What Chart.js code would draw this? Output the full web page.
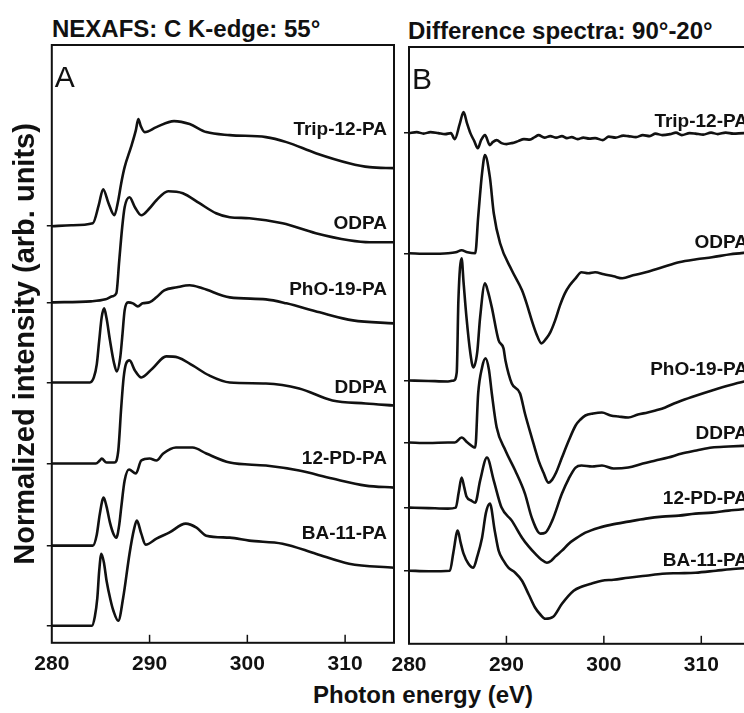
<!DOCTYPE html>
<html>
<head>
<meta charset="utf-8">
<script src="https://cdn.jsdelivr.net/npm/chart.js@4.4.1/dist/chart.umd.min.js"></script>
<style>
  html, body { margin: 0; padding: 0; background: #fff; overflow: hidden; width: 744px; height: 713px; }
  .txt { position: absolute; font-family: "Liberation Sans", Arial, sans-serif; font-weight: bold;
         color: #111; white-space: nowrap; font-size: 24px; line-height: 24px; }
  canvas { position: absolute; top: 0; }
</style>
</head>
<body>
<div class="txt" style="left:52px; top:17px;">NEXAFS: C K-edge: 55°</div>
<div class="txt" style="left:408px; top:19px;">Difference spectra: 90°-20°</div>
<div class="txt" style="left:313px; top:683px;">Photon energy (eV)</div>
<canvas id="chartA" width="400" height="713" style="left:0px"></canvas>
<canvas id="chartB" width="440" height="713" style="left:360px"></canvas>
<script>
// spectrum names (top to bottom)
const names = ['Trip-12-PA', 'ODPA', 'PhO-19-PA', 'DDPA', '12-PD-PA', 'BA-11-PA'];
const xTicks = [280, 290, 300, 310];

// Panel A: NEXAFS C K-edge at 55 deg, [photon energy eV, offset intensity]
const tripA = [[280,41.6],[282,41.7],[284.2,41.9],[284.8,43.7],[285.25,45.3],[285.8,43.9],[286.4,42.7],[286.8,44.2],[287.1,45.9],[287.45,47.5],[288.1,49.5],[288.6,51.2],[288.85,52.3],[289.1,51.6],[289.5,51.0],[290.7,51.5],[292.5,52.1],[294.1,51.8],[295.8,51.0],[298.2,50.7],[301.9,50.5],[304,50.0],[307,48.9],[310.4,47.9],[312.5,47.5],[315,47.4]];
const odpaA = [[280,34.0],[284,34.1],[285.5,34.3],[286.2,34.6],[286.6,34.9],[286.9,38.2],[287.2,41.5],[287.45,43.5],[287.95,44.5],[288.5,43.5],[289.15,42.7],[290,43.4],[290.7,44.2],[291.9,45.1],[293.4,44.9],[295.1,43.9],[296.8,42.9],[298.2,42.5],[300.2,42.4],[303.6,41.9],[307,40.9],[310.4,40.2],[312.5,40.0],[315,40.0]];
const phoA = [[280,26.0],[283.9,26.0],[284.3,26.5],[284.6,27.8],[284.85,30.2],[285.1,32.5],[285.35,33.4],[285.6,32.4],[285.95,30.2],[286.35,28.0],[286.65,27.1],[287.0,28.5],[287.2,30.5],[287.45,33.2],[287.8,34.0],[288.3,33.9],[288.8,33.6],[289.3,33.9],[290,34.0],[290.7,34.5],[291.5,35.2],[292.8,35.5],[294.1,35.7],[295.4,35.4],[298.2,34.5],[301.9,34.3],[304,33.9],[307.4,33.0],[310.8,32.2],[315,31.9]];
const ddpaA = [[280,17.9],[284.5,17.9],[284.9,18.2],[285.1,18.4],[285.6,18.0],[286.4,18.0],[286.8,19.2],[287.1,23.5],[287.35,26.5],[287.6,27.9],[287.95,28.2],[288.5,27.2],[289.15,26.5],[290.3,27.4],[291.7,28.6],[292.9,28.5],[294.4,27.7],[296.1,26.7],[298.2,26.0],[301.9,25.9],[305.3,25.4],[308.7,24.2],[312.1,23.9],[315,23.7]];
const pdA = [[280,9.7],[284.2,9.7],[284.6,10.8],[284.9,12.8],[285.3,14.5],[285.6,13.6],[285.95,12.0],[286.3,10.9],[286.6,10.5],[286.9,11.8],[287.1,13.5],[287.45,16.2],[287.9,17.3],[288.6,16.9],[289.15,18.2],[290,18.4],[290.7,18.2],[291.4,18.9],[292.7,19.5],[294.4,19.5],[295.8,18.9],[298.2,18.0],[301.9,17.7],[305.3,17.2],[308.7,16.4],[312.1,15.7],[315,15.5]];
const baA = [[280,1.7],[284.1,1.7],[284.4,2.6],[284.65,4.4],[284.85,7.2],[285.07,8.9],[285.35,7.9],[285.6,6.2],[286.0,4.3],[286.3,3.2],[286.8,2.2],[287.3,4.5],[287.95,8.9],[288.4,11.3],[288.7,12.2],[289.15,10.9],[289.6,9.8],[290.7,10.4],[292,11.0],[293.7,11.9],[294.8,11.5],[295.8,10.7],[298.2,10.5],[300.2,10.2],[303.6,9.9],[307,8.9],[310.4,7.9],[315,7.5]];

// Panel B: difference spectra 90-20 deg
const tripB = [[280,50.9],[280.8,51.0],[281.5,50.85],[282.2,51.0],[283,50.9],[283.7,50.8],[284.3,50.9],[284.7,50.3],[285.2,51.8],[285.6,53.0],[285.95,51.9],[286.3,50.9],[286.7,50.1],[287.06,49.4],[287.4,50.2],[287.8,50.7],[288.3,49.7],[288.6,50.0],[289,50.2],[289.5,49.9],[290.0,49.8],[290.55,49.9],[291.2,50.1],[291.8,50.3],[292.4,50.25],[292.9,50.5],[293.3,50.7],[293.9,50.45],[294.5,50.6],[295.1,50.45],[295.7,50.6],[296.2,50.4],[296.7,50.5],[297.3,50.3],[297.9,50.45],[298.5,50.35],[299.1,50.4],[299.9,50.2],[300.5,50.55],[301.2,50.45],[302,50.65],[302.5,50.6],[303.3,50.5],[304,50.7],[304.7,50.6],[305.3,50.85],[306,50.7],[306.8,50.8],[307.4,50.95],[308,50.7],[308.8,50.9],[309.4,50.85],[310.2,50.75],[311,50.95],[311.7,50.8],[312.5,50.95],[313.3,50.85],[314.4,50.9],[315,50.9]];
const odpaB = [[280,38.9],[282,38.85],[284,38.9],[284.8,39.0],[285.4,39.2],[286,39.0],[286.8,38.9],[287.1,42.5],[287.5,46.9],[287.8,48.7],[288.3,46.5],[288.7,42.9],[289.35,39.9],[290.55,37.2],[291.6,35.2],[292.1,33.8],[292.6,32.2],[293.1,30.8],[293.6,29.9],[294.1,30.4],[294.5,31.0],[295,32.2],[295.5,33.7],[296,34.9],[296.5,35.7],[297.1,36.4],[297.7,37.0],[298.4,36.9],[299.1,37.0],[300,36.8],[301,36.6],[301.9,36.4],[303,36.7],[304.3,37.0],[306,37.5],[307.7,38.0],[309.5,38.3],[311.1,38.5],[313,38.8],[315,39.0]];
const phoB = [[280,26.2],[282,26.15],[284,26.1],[284.6,26.2],[284.9,27.0],[285.07,34.2],[285.4,38.4],[285.6,36.0],[285.9,32.5],[286.3,28.9],[286.6,27.5],[287.0,29.0],[287.3,32.5],[287.8,35.9],[288.1,35.1],[288.5,33.5],[289.2,30.2],[289.7,29.4],[289.9,28.2],[290.55,25.9],[291.4,24.9],[291.9,22.9],[292.6,20.5],[293.3,18.2],[293.8,17.0],[294.3,16.0],[294.7,16.3],[295.1,17.0],[295.7,18.5],[296.4,20.2],[297.1,21.7],[297.6,22.3],[298.1,22.7],[298.9,22.9],[299.8,23.0],[300.7,22.7],[301.5,22.6],[302.5,22.5],[303.5,22.8],[304.5,23.0],[305.3,23.2],[306.3,23.5],[307.2,23.9],[308,24.2],[309.5,24.7],[311.1,25.2],[312.8,25.7],[314.4,26.1],[315,26.2]];
const ddpaB = [[280,20.0],[282,19.95],[284,20.0],[284.7,20.0],[285.4,20.5],[286,20.0],[286.8,19.5],[287.1,24.9],[287.5,27.5],[287.85,28.4],[288.2,27.3],[288.5,24.9],[289,21.5],[289.9,19.2],[290.9,17.2],[291.9,14.9],[292.6,12.5],[293.5,10.9],[294.0,11.0],[294.7,12.2],[295.7,14.9],[296.4,16.4],[297.1,17.5],[297.7,17.7],[298.8,17.6],[299.8,17.7],[301,17.4],[302.5,17.5],[304,17.9],[305.3,18.2],[306.6,18.5],[308,18.9],[309.5,19.2],[311.1,19.5],[312.8,19.6],[315,19.7]];
const pdB = [[280,13.5],[282,13.45],[284,13.4],[284.8,13.5],[285.1,15.0],[285.4,16.5],[285.65,15.6],[285.9,14.6],[286.4,14.2],[286.8,14.0],[287.3,16.2],[288,18.5],[288.7,16.2],[289.5,13.5],[290.55,12.2],[291.6,10.5],[292.3,9.6],[292.95,8.9],[293.6,8.3],[294.15,8.0],[294.6,8.2],[295.0,8.6],[295.7,9.2],[296.4,9.9],[297.1,10.4],[298.1,11.0],[299.5,11.5],[300.8,11.8],[302.5,12.1],[304.3,12.4],[306,12.6],[307.7,12.7],[309.4,12.9],[311.1,13.0],[312.8,13.2],[315,13.4]];
const baB = [[280,7.2],[282,7.15],[284.2,7.2],[284.55,9.0],[285.0,11.2],[285.3,10.0],[285.6,8.9],[286.1,7.9],[286.6,7.5],[287.0,8.6],[287.5,10.5],[287.9,13.0],[288.3,13.9],[288.8,11.2],[289.2,9.2],[289.7,8.2],[290.2,7.5],[290.9,7.0],[291.6,6.2],[292.3,4.8],[292.95,3.5],[293.5,2.8],[294.0,2.4],[294.8,2.6],[295.7,3.9],[296.9,5.2],[297.7,5.6],[298.7,5.9],[299.8,6.2],[301,6.3],[302.5,6.5],[304.3,6.7],[306,6.9],[307.7,6.95],[309.4,7.0],[311.5,7.2],[313,7.35],[315,7.5]];

// pre-edge baselines (left axis tick marks)
const baseA = [41.6, 34.0, 26.0, 17.9, 9.7, 1.7];
const baseB = [50.9, 38.9, 26.2, 20.0, 13.5, 7.2];
// where each name sits (y value of the text baseline)
const labelYA = [50.7, 41.3, 34.7, 24.9, 17.9, 10.4];
const labelYB = [51.5, 39.4, 26.7, 20.4, 13.9, 7.7];

const FONT = '"Liberation Sans", Arial, sans-serif';
const INK = '#111';

// frame, inward x ticks, panel letter and curve names
const framePlugin = {
  id: 'frame',
  afterDraw(chart, args, opts) {
    const { ctx, chartArea: a } = chart;
    const x = chart.scales.x, y = chart.scales.y;
    ctx.save();
    ctx.strokeStyle = INK;
    ctx.lineWidth = 2;
    ctx.strokeRect(a.left, a.top, a.right - a.left, a.bottom - a.top);
    ctx.lineWidth = 1.5;
    x.ticks.forEach(t => {
      const px = x.getPixelForValue(t.value);
      if (px <= a.left + 2 || px >= a.right - 2) return;
      ctx.beginPath();
      ctx.moveTo(px, a.bottom);
      ctx.lineTo(px, a.bottom - 8);
      ctx.stroke();
    });
    ctx.fillStyle = INK;
    ctx.font = '30px ' + FONT;
    ctx.textAlign = 'left';
    ctx.textBaseline = 'alphabetic';
    ctx.fillText(opts.letter, a.left + 3, a.top + 42);
    ctx.font = 'bold 19px ' + FONT;
    ctx.textAlign = 'right';
    chart.data.datasets.forEach((ds, i) => {
      ctx.fillText(ds.label, a.right - opts.inset, y.getPixelForValue(opts.labelY[i]));
    });
    ctx.restore();
  }
};

function makeSets(series) {
  return series.map((s, i) => ({
    label: names[i],
    data: s.map(p => ({ x: p[0], y: p[1] })),
    borderColor: INK,
    borderWidth: 2.6,
    pointRadius: 0,
    cubicInterpolationMode: 'monotone',
    fill: false
  }));
}

function makeChart(id, series, base, opts) {
  return new Chart(document.getElementById(id), {
    type: 'line',
    data: { datasets: makeSets(series) },
    options: {
      responsive: false,
      animation: false,
      layout: { padding: opts.padding },
      plugins: {
        legend: { display: false },
        tooltip: { enabled: false },
        frame: { letter: opts.letter, labelY: opts.labelY, inset: opts.inset }
      },
      scales: {
        x: {
          type: 'linear',
          min: 280, max: 315,
          afterBuildTicks: s => { s.ticks = xTicks.map(v => ({ value: v })); },
          ticks: { font: { family: FONT, size: 21, weight: 'bold' }, color: INK, padding: 9 },
          grid: { display: false, drawTicks: false },
          border: { display: false }
        },
        y: {
          type: 'linear',
          min: opts.yMin, max: opts.yMax,
          afterBuildTicks: s => { s.ticks = base.map(v => ({ value: v })); },
          ticks: { display: false },
          grid: { display: true, drawOnChartArea: false, drawTicks: true, tickLength: 5, color: INK, lineWidth: 1.5 },
          border: { display: false },
          title: {
            display: opts.yTitle !== '',
            text: opts.yTitle,
            font: { family: FONT, size: 29, weight: 'bold' },
            color: INK,
            padding: { top: 9, bottom: 3 }
          }
        }
      }
    },
    plugins: [framePlugin]
  });
}

makeChart('chartA', [tripA, odpaA, phoA, ddpaA, pdA, baA], baseA, {
  letter: 'A', labelY: labelYA, inset: 7,
  padding: { left: 0, top: 45, right: 6, bottom: 27 },
  yMin: 0, yMax: 59.7,
  yTitle: 'Normalized intensity (arb. units)'
});

makeChart('chartB', [tripB, odpaB, phoB, ddpaB, pdB, baB], baseB, {
  letter: 'B', labelY: labelYB, inset: 2,
  padding: { left: 44, top: 47, right: 50, bottom: 26 },
  yMin: -0.1, yMax: 59.5,
  yTitle: ''
});
</script>
</body>
</html>
